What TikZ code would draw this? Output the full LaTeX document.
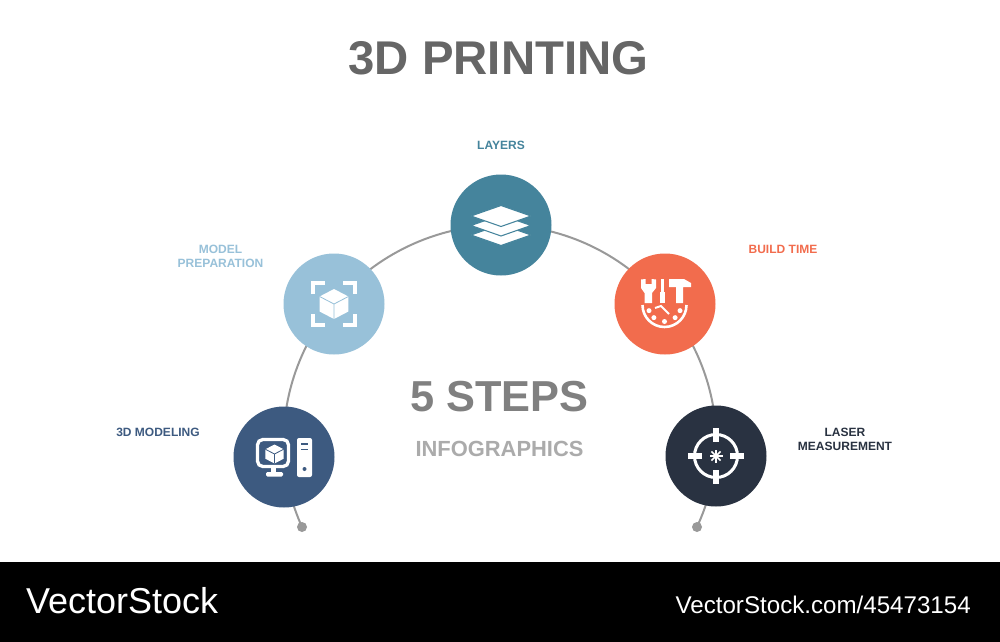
\documentclass[tikz,border=0pt]{standalone}
\usepackage{fontspec}
\setmainfont{Liberation Sans}
\usetikzlibrary{backgrounds}
\definecolor{modelcol}{HTML}{3D5A80}
\definecolor{prepcol}{HTML}{98C1D9}
\definecolor{layercol}{HTML}{45849C}
\definecolor{buildcol}{HTML}{F26C4D}
\definecolor{lasercol}{HTML}{293241}
\definecolor{arccol}{HTML}{999999}
\tikzset{%
    stepc/.style={circle,fill=#1,minimum size=3.03cm,inner sep=0pt},
    tag/.style={font=\bfseries\fontsize{10.25pt}{12pt}\selectfont,align=center,text=#1},
    endp/.style={circle,fill=arccol,minimum size=.3cm,inner sep=0pt},
    rim/.style={draw=arccol,line width=1.7pt,looseness=.89},
    icl/.style={draw=white,line width=#1},
    ic3/.style={draw=white,line width=2.8pt}
}
% hexagon cube: x, y, radius, line colour
\newcommand{\cubeicon}[4]{
    \fill[white] (#1,#2-#3) -- (#1+.96*#3,#2-.5*#3) -- (#1+.96*#3,#2+.5*#3) -- (#1,#2+#3)
        -- (#1-.96*#3,#2+.5*#3) -- (#1-.96*#3,#2-.5*#3) -- cycle;
    \draw[#4,line width=.7pt] (#1-.96*#3,#2-.5*#3) -- (#1,#2) -- (#1+.96*#3,#2-.5*#3) (#1,#2) -- (#1,#2+#3);
}
\begin{document}
\begin{tikzpicture}[x=.03cm,y=-.03cm]
    \path[use as bounding box] (0,0) rectangle (1000,642);
    \fill[black] (0,562) rectangle (1000,642);
    %%%%% texts
    \node[font=\bfseries\fontsize{40.4pt}{44pt}\selectfont,text=black!60] (title) at (498.5,58) {3D PRINTING};
    \node[font=\bfseries\fontsize{37pt}{40pt}\selectfont,text=black!50] (steps) at (499.5,397) {5 STEPS};
    \node[font=\bfseries\fontsize{18.7pt}{22pt}\selectfont,text=black!33] (info) at (499.5,449) {INFOGRAPHICS};
    \node[text=white,font=\fontsize{30.7pt}{33pt}\selectfont,anchor=west,inner sep=0pt] (brand) at (26,601) {VectorStock};
    \node[text=white,font=\fontsize{20.6pt}{23pt}\selectfont,anchor=east,inner sep=0pt] (url) at (971,604.5) {VectorStock.com/45473154};
    %%%%% steps
    \node[stepc=modelcol] (model) at (284,457) {};
    \node[stepc=prepcol] (prep) at (334,304) {};
    \node[stepc=layercol] (layers) at (501,225) {};
    \node[stepc=buildcol] (build) at (665,304) {};
    \node[stepc=lasercol] (laser) at (716,456) {};
    \node[endp] (endl) at (302,527) {};
    \node[endp] (endr) at (697,527) {};
    \node[tag=modelcol] (t1) at (158,432.5) {3D MODELING};
    \node[tag=prepcol] (t2) at (220.5,256.5) {MODEL\\PREPARATION};
    \node[tag=layercol] (t3) at (501,145) {LAYERS};
    \node[tag=buildcol] (t4) at (783,249) {BUILD TIME};
    \node[tag=lasercol] (t5) at (845,439.5) {LASER\\MEASUREMENT};
    %%%%%
    \begin{pgfonlayer}{background}
        \fill[white] (0,0) rectangle (1000,642);
        \draw[rim] (endl.center) to[bend left=9.6] (model.center);
        \draw[rim] (model.center) to[bend left=21.8] (prep.center);
        \draw[rim] (prep.center) to[bend left=25.2] (layers.center);
        \draw[rim] (layers.center) to[bend left=25.2] (build.center);
        \draw[rim] (build.center) to[bend left=21.8] (laser.center);
        \draw[rim] (laser.center) to[bend left=9.6] (endr.center);
    \end{pgfonlayer}
    %%%%% computer
    \draw[ic3,rounded corners=1.6mm] (257.5,439.5) rectangle (288.5,466.5);
    \fill[white] (271,467) rectangle (275.5,473);
    \fill[white,rounded corners=.4mm] (266,472) rectangle (283,476.5);
    \cubeicon{274.5}{454}{9.5}{modelcol}
    \fill[white,rounded corners=.6mm] (297,438) rectangle (312,477);
    \draw[modelcol,line width=1.4pt] (301,444) -- (308,444) (301,449.5) -- (308,449.5);
    \fill[modelcol] (304.5,469) circle (2);
    %%%%% cube in brackets
    \cubeicon{334}{304}{15}{prepcol}
    \draw[icl=3.3pt] (313,294) |- (325,283) (343,283) -| (355,294)
        (355,314) |- (343,325) (325,325) -| (313,314);
    %%%%% stacked sheets
    \foreach \ly in {235,225.5,216}{
        \draw[fill=white,draw=layercol,line width=.9pt] (471,\ly) -- (501,\ly-10.5) -- (531,\ly) -- (501,\ly+10.5) -- cycle;
    }
    %%%%% tools and clock
    \fill[white] (644.5,303) -- (644.5,293) -- (641,288) -- (641,279.5) -- (645.5,279) -- (645.5,284)
        -- (651.5,284) -- (651.5,279) -- (656,279.5) -- (656,288) -- (652,293) -- (652,303) -- cycle;
    \fill[white] (661,279) rectangle (663.5,293);
    \fill[white] (659.5,292) rectangle (665,303);
    \fill[white] (669,279) -- (684,279) -- (691,283) -- (691,287) -- (683,287) -- (683,303)
        -- (676,303) -- (676,287) -- (669,287) -- cycle;
    \draw[icl=2.2pt] (642.5,305) arc[start angle=180,end angle=0,radius=22];
    \draw[icl=1.7pt] (655,308) -- (661,306) -- (669,314);
    \foreach \ta in {20,50,90,130,160}{
        \fill[white] (664.5,305) ++(\ta:16.5) circle (2.5);
    }
    %%%%% crosshair
    \draw[icl=2.6pt] (716,456) circle (21.5);
    \fill[white] (713,428) rectangle (719,442);
    \fill[white] (713,470) rectangle (719,484);
    \fill[white] (688,453) rectangle (702,459);
    \fill[white] (730,453) rectangle (744,459);
    \foreach \sa in {0,45,90,135}{
        \draw[icl=1.3pt] (716,456) ++(\sa:6.5) -- ++(\sa+180:13);
    }
\end{tikzpicture}
\end{document}
